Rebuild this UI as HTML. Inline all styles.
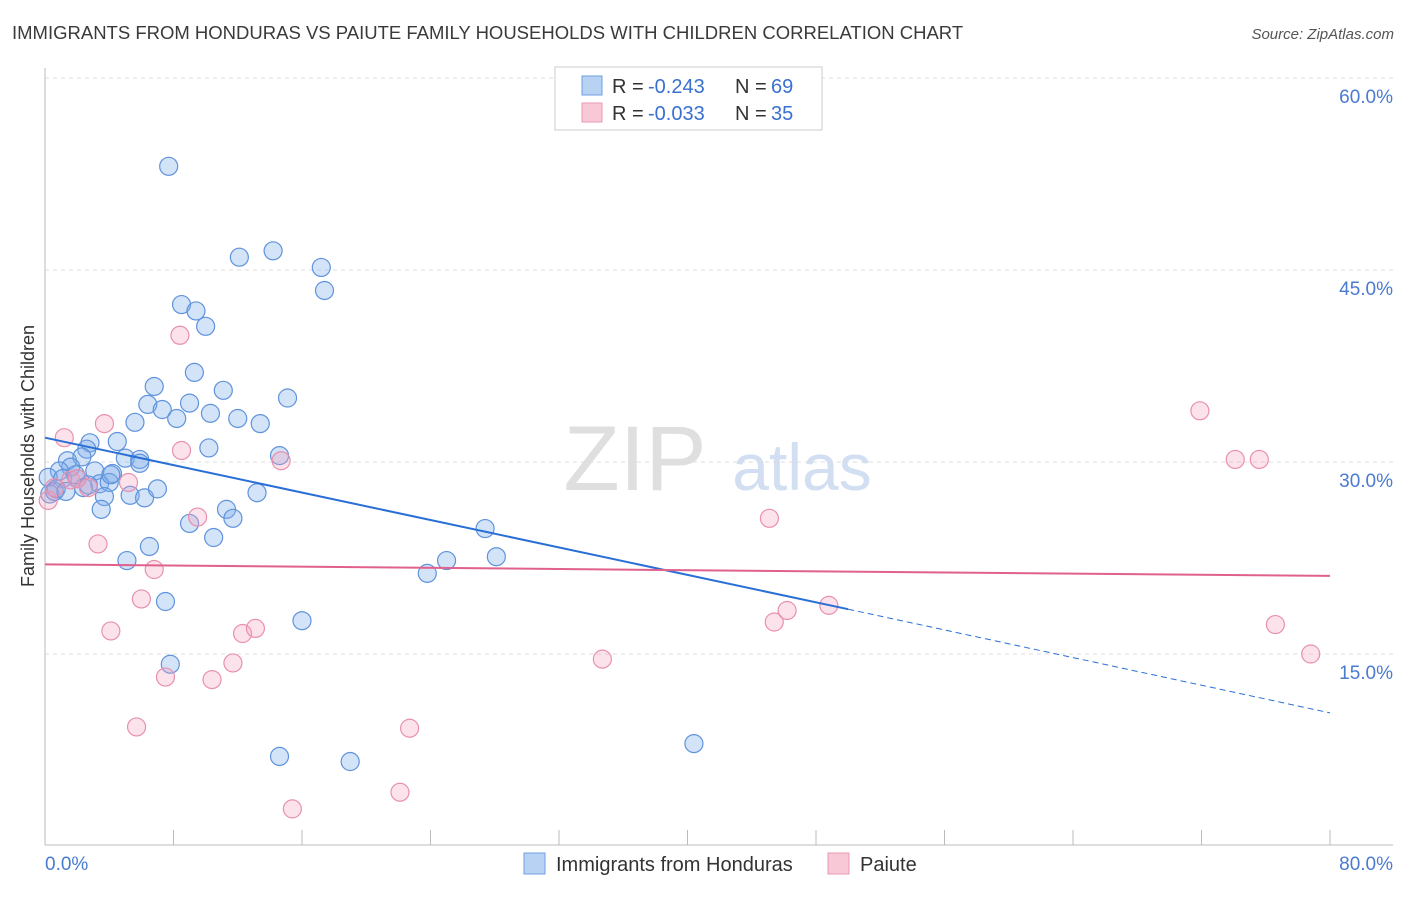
<!DOCTYPE html>
<html><head><meta charset="utf-8"><style>
body{margin:0;background:#fff;font-family:"Liberation Sans",sans-serif}
svg text{font-family:"Liberation Sans",sans-serif}
</style></head><body>
<svg id="chart" width="1406" height="892" viewBox="0 0 1406 892">
<text x="12" y="39" font-size="18.5" fill="#3a3a3a">IMMIGRANTS FROM HONDURAS VS PAIUTE FAMILY HOUSEHOLDS WITH CHILDREN CORRELATION CHART</text>
<text x="1394" y="39" font-size="15" fill="#555" font-style="italic" text-anchor="end">Source: ZipAtlas.com</text>
<g>
<text x="635" y="490" font-size="92" fill="#d8d8d8" font-family="Liberation Serif" text-anchor="middle" opacity="0.8">ZIP</text>
<text x="802" y="490" font-size="66" fill="#c8d8ef" text-anchor="middle" opacity="0.8">atlas</text>
</g>
<g id="grid"></g>
<line x1="45" y1="68" x2="45" y2="845" stroke="#bbb"/>
<line x1="45" y1="845" x2="1393" y2="845" stroke="#bbb"/>
<g id="xticks"></g>
<text x="45" y="870" font-size="19" fill="#4a7bd0">0.0%</text>
<text x="1393" y="870" font-size="19" fill="#4a7bd0" text-anchor="end">80.0%</text>
<text transform="translate(34,456) rotate(-90)" font-size="18" fill="#333" text-anchor="middle">Family Households with Children</text>
<g id="pts"></g>
<g id="lines"></g>
<g font-size="20">
<rect x="555" y="67" width="267" height="63" fill="#fff" stroke="#ccc"/>
<rect x="582" y="76" width="20" height="19" fill="#b8d2f4" stroke="#6f9fe0"/>
<rect x="582" y="103" width="20" height="19" fill="#f8c8d6" stroke="#e89ab2"/>
<text x="612" y="93" fill="#333">R =</text><text x="648" y="93" fill="#3a70d0">-0.243</text>
<text x="735" y="93" fill="#333">N =</text><text x="771" y="93" fill="#3a70d0">69</text>
<text x="612" y="120" fill="#333">R =</text><text x="648" y="120" fill="#3a70d0">-0.033</text>
<text x="735" y="120" fill="#333">N =</text><text x="771" y="120" fill="#3a70d0">35</text>
</g>
<g>
<rect x="524" y="853" width="21" height="21" fill="#b8d2f4" stroke="#6f9fe0"/>
<text x="556" y="871" font-size="20" fill="#333">Immigrants from Honduras</text>
<rect x="828" y="853" width="21" height="21" fill="#f8c8d6" stroke="#e89ab2"/>
<text x="860" y="871" font-size="20" fill="#333">Paiute</text>
</g>
</svg>
<script>
const yTicks=[15,30,45,60];
const yTickLabels=["15.0%","30.0%","45.0%","60.0%"];
const blueX=[7.7,12.1,14.2,17.2,17.4,8.5,9.4,10.0,9.3,6.8,11.1,15.1,6.4,7.3,9.0,8.2,10.3,12.0,13.4,5.6,4.5,2.8,2.6,10.2,14.6,5.0,5.9,1.4,2.3,3.1,4.2,1.6,0.9,0.2,1.1,3.4,4.0,2.0,2.4,0.7,0.3,0.6,5.3,3.7,6.2,7.0,13.2,3.5,11.3,11.7,9.0,10.5,6.5,5.1,27.4,25.0,28.1,23.8,7.5,16.0,7.8,14.6,19.0,40.4,5.9,4.1,1.9,2.7,1.3];
const blueY=[53.1,46.0,46.5,45.2,43.4,42.3,41.8,40.6,37.0,35.9,35.6,35.0,34.5,34.1,34.6,33.4,33.8,33.4,33.0,33.1,31.6,31.5,31.0,31.1,30.5,30.3,30.2,30.1,30.4,29.3,29.1,29.6,29.3,28.8,28.7,28.3,28.4,28.7,28.0,27.9,27.5,27.7,27.4,27.3,27.2,27.9,27.6,26.3,26.3,25.6,25.2,24.1,23.4,22.3,24.8,22.3,22.6,21.3,19.1,17.6,14.2,7.0,6.6,8.0,29.9,29.0,29.0,28.2,27.7];
const pinkX=[0.2,1.2,3.7,8.4,8.5,1.6,2.0,2.7,5.2,9.5,14.7,3.3,6.8,6.0,4.1,12.3,13.1,11.7,10.4,7.5,5.7,22.7,15.4,22.1,34.7,45.1,45.4,46.2,48.8,71.9,74.1,75.6,76.6,78.8,0.6];
const pinkY=[27.0,31.9,33.0,39.9,30.9,28.6,28.7,28.0,28.4,25.7,30.1,23.6,21.6,19.3,16.8,16.6,17.0,14.3,13.0,13.2,9.3,9.2,2.9,4.2,14.6,25.6,17.5,18.4,18.8,34.0,30.2,30.2,17.3,15.0,28.0];
const blueLine=[[0,31.9],[50,18.5]], blueDash=[[50,18.5],[80,10.4]];
const pinkLine=[[0,22.0],[80,21.1]];
const xTicks=[0,8,16,24,32,40,48,56,64,72,80];
const sx=v=>45+v/80*1285, sy=v=>846-v/15*192;
const NS="http://www.w3.org/2000/svg";
function mk(t,a,p){const e=document.createElementNS(NS,t);for(const k in a)e.setAttribute(k,a[k]);document.getElementById(p).appendChild(e);return e;}
yTicks.forEach((t,i)=>{
 const l=mk('line',{x1:45,x2:1393,y1:sy(t),y2:sy(t),stroke:'#ddd','stroke-dasharray':'4,4'},'grid');
 
 
 const tx=mk('text',{x:1393,y:sy(t)+25,'font-size':19,fill:'#4a7bd0','text-anchor':'end'},'grid');
 tx.textContent=yTickLabels[i];
 
 
});
xTicks.forEach(t=>{
 const l=mk('line',{x1:sx(t),x2:sx(t),y1:830,y2:845,stroke:'#bbb'},'xticks');
 
 
});
blueX.forEach((x,i)=>{
 const c=mk('circle',{cx:sx(x),cy:sy(blueY[i]),r:9,fill:'rgba(130,175,235,0.35)',stroke:'#5f93dc','stroke-width':1.2},'pts');
 
 
});
pinkX.forEach((x,i)=>{
 const c=mk('circle',{cx:sx(x),cy:sy(pinkY[i]),r:9,fill:'rgba(245,160,190,0.3)',stroke:'#e890ae','stroke-width':1.2},'pts');
 
 
});
let l=mk('line',{x1:sx(blueLine[0][0]),y1:sy(blueLine[0][1]),x2:sx(blueLine[1][0]),y2:sy(blueLine[1][1]),stroke:'#2a6fd6','stroke-width':2},'lines');


l=mk('line',{x1:sx(blueDash[0][0]),y1:sy(blueDash[0][1]),x2:sx(blueDash[1][0]),y2:sy(blueDash[1][1]),stroke:'#2a6fd6','stroke-width':1,'stroke-dasharray':'6,4'},'lines');


l=mk('line',{x1:sx(pinkLine[0][0]),y1:sy(pinkLine[0][1]),x2:sx(pinkLine[1][0]),y2:sy(pinkLine[1][1]),stroke:'#e0608e','stroke-width':2},'lines');


</script>
</body></html>
